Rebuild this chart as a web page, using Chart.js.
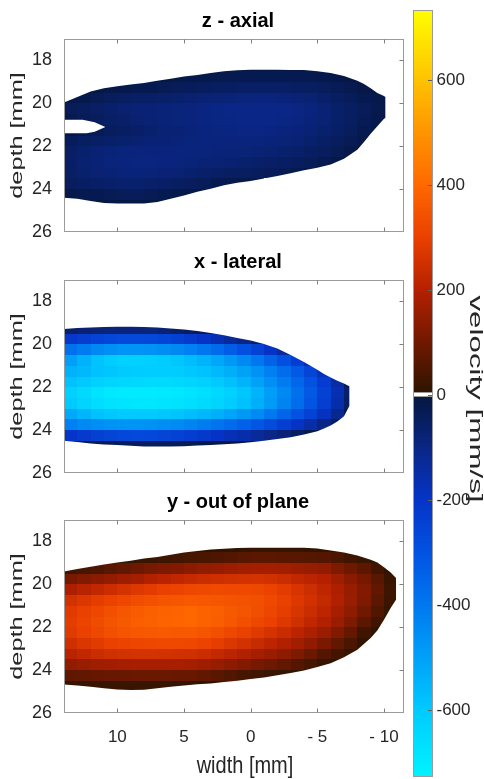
<!DOCTYPE html>
<html><head><meta charset="utf-8">
<script src="https://cdn.jsdelivr.net/npm/chart.js@4.4.1/dist/chart.umd.min.js"></script>
<style>
html,body{margin:0;padding:0;background:#fff;}
#wrap{position:relative;width:484px;height:779px;overflow:hidden;background:#fff;}
#wrap canvas{position:absolute;}
</style></head><body>
<div id="wrap">
<canvas id="p1" width="476" height="250" style="left:0;top:0"></canvas>
<canvas id="p2" width="476" height="250" style="left:0;top:241px"></canvas>
<canvas id="p3" width="476" height="298" style="left:0;top:481px"></canvas>
<canvas id="cb" width="84" height="800" style="left:400px;top:0"></canvas>
</div>
<script>
const _ = null;
// ---------------- DATA ----------------
const panelTitles = ['z - axial', 'x - lateral', 'y - out of plane'];
const widthBins = [14,13,12,11,10,9,8,7,6,5,4,3,2,1,0,-1,-2,-3,-4,-5,-6,-7,-8,-9,-10]; // each cell: w .. w-1 mm
const depthBins = [18,18.5,19,19.5,20,20.5,21,21.5,22,22.5,23,23.5,24,24.5];           // each cell: d .. d+0.5 mm
const xTickValues = [10,5,0,-5,-10];
const xTickLabels = ['10','5','0','- 5','- 10'];
const depthTicks = [18,20,22,24,26];
const depthTickLabels = ['18','20','22','24','26'];
const cbTicks = [600,400,200,0,-200,-400,-600];
const cbTickLabels = ['600','400','200','0','-200','-400','-600'];

// outlines (width, top depth, bottom depth)
const axialOutlineX = [14,13,12,11,10,9,8,7,6,5,4,3,2,1,0,-1,-2,-3,-4,-5,-6,-7,-8,-8.5,-9,-9.5,-10,-10.1];
const axialTop      = [19.96,19.7,19.45,19.3,19.2,19.12,19.05,18.95,18.85,18.75,18.68,18.58,18.5,18.46,18.43,18.43,18.43,18.44,18.45,18.5,18.58,18.72,18.95,19.1,19.3,19.52,19.66,19.7];
const axialBottom   = [24.4,24.45,24.55,24.65,24.67,24.67,24.67,24.6,24.45,24.3,24.12,23.98,23.82,23.7,23.62,23.5,23.39,23.26,23.12,23.0,22.85,22.58,22.16,21.8,21.42,21.07,20.72,20.68];
const axialNotchX   = [14,12.6,11.7,10.9,11.7,12.3,14];
const axialNotchD   = [20.77,20.77,20.88,21.1,21.32,21.39,21.39];

const lateralOutlineX = [14,13,12,11,10,9,8,7,6,5,4,3,2,1,0,-1,-2,-3,-4,-5,-5.5,-6,-6.5,-7,-7.4];
const lateralTop      = [19.28,19.24,19.21,19.19,19.18,19.18,19.19,19.22,19.26,19.31,19.38,19.47,19.58,19.7,19.82,19.98,20.2,20.5,20.82,21.18,21.38,21.55,21.7,21.83,21.95];
const lateralBottom   = [24.5,24.56,24.62,24.67,24.7,24.73,24.76,24.77,24.77,24.75,24.72,24.69,24.66,24.62,24.57,24.5,24.42,24.33,24.2,24.05,23.92,23.78,23.6,23.35,22.88];

const outplaneOutlineX = [14,13,12,11,10,9,8,7,6,5,4,3,2,1,0,-1,-2,-3,-4,-5,-6,-7,-8,-9,-9.5,-10,-10.5,-10.9];
const outplaneTop      = [19.4,19.28,19.18,19.08,18.98,18.9,18.8,18.72,18.62,18.52,18.44,18.38,18.34,18.31,18.29,18.29,18.29,18.29,18.29,18.33,18.42,18.52,18.65,18.85,18.98,19.2,19.45,19.71];
const outplaneBottom   = [24.67,24.72,24.78,24.85,24.9,24.93,24.92,24.85,24.78,24.72,24.66,24.62,24.56,24.5,24.42,24.34,24.24,24.13,24.02,23.85,23.68,23.4,23.05,22.5,22.15,21.65,21.1,20.72];

// velocity [mm/s], one array per width cell, entries per depth cell
const axialV = [
[_,_,_,-15,-35,-23,-15,-39,-55,-58,-55,-43,-20,_],
[_,_,-8,-20,-43,-35,-23,-47,-66,-70,-66,-50,-23,-6],
[_,_,-12,-31,-55,-43,-31,-55,-74,-78,-74,-58,-27,-8],
[_,_,-16,-43,-62,-55,-43,-62,-82,-86,-78,-62,-31,-8],
[_,_,-20,-47,-70,-62,-50,-66,-86,-90,-82,-66,-35,-8],
[_,_,-23,-55,-74,-70,-58,-70,-90,-92,-84,-66,-35,-8],
[_,-6,-27,-58,-78,-74,-66,-74,-90,-92,-82,-62,-31,-8],
[_,-8,-31,-62,-82,-82,-74,-78,-90,-90,-78,-58,-27,-6],
[_,-12,-35,-66,-86,-86,-78,-82,-90,-86,-74,-50,-20,_],
[_,-16,-39,-70,-90,-90,-82,-86,-87,-82,-66,-43,-12,_],
[_,-20,-43,-74,-94,-94,-87,-87,-86,-78,-61,-35,-8,_],
[_,-22,-47,-78,-98,-98,-92,-90,-84,-74,-55,-27,_,_],
[-5,-23,-51,-82,-101,-100,-94,-90,-82,-70,-51,-23,_,_],
[-6,-25,-55,-86,-103,-101,-95,-90,-80,-66,-47,-20,_,_],
[-8,-27,-56,-87,-105,-103,-95,-87,-76,-62,-43,-16,_,_],
[-8,-27,-56,-87,-105,-101,-94,-84,-72,-58,-37,_,_,_],
[-8,-27,-55,-84,-101,-98,-90,-80,-66,-53,-31,_,_,_],
[-8,-26,-51,-78,-95,-92,-84,-74,-61,-45,-23,_,_,_],
[-6,-23,-47,-72,-87,-84,-76,-66,-53,-35,-16,_,_,_],
[-5,-20,-41,-62,-76,-74,-66,-56,-43,-25,_,_,_,_],
[_,-14,-33,-51,-62,-61,-55,-45,-31,-12,_,_,_,_],
[_,-8,-23,-39,-48,-47,-41,-31,-16,-6,_,_,_,_],
[_,-6,-14,-27,-35,-33,-27,-16,-6,_,_,_,_,_],
[_,_,-8,-17,-23,-20,-12,_,_,_,_,_,_,_],
[_,_,_,-12,-14,-9,_,_,_,_,_,_,_,_]
];
const lateralV = [
[_,_,-60,-210,-380,-500,-540,-580,-620,-600,-520,-420,-200,-10],
[_,_,-70,-230,-410,-540,-560,-600,-650,-630,-550,-440,-220,-20],
[_,_,-80,-250,-440,-580,-580,-620,-680,-660,-580,-455,-240,-30],
[_,_,-85,-260,-460,-610,-590,-630,-695,-675,-595,-465,-255,-35],
[_,_,-90,-270,-470,-620,-600,-640,-700,-680,-600,-470,-265,-40],
[_,_,-90,-270,-470,-620,-605,-645,-700,-685,-600,-470,-270,-45],
[_,_,-85,-265,-465,-615,-610,-650,-700,-685,-600,-465,-265,-45],
[_,_,-75,-255,-455,-605,-610,-650,-695,-680,-595,-455,-255,-40],
[_,_,-60,-240,-440,-590,-605,-645,-690,-675,-585,-445,-245,-35],
[_,_,-45,-220,-420,-570,-595,-635,-680,-665,-570,-430,-230,-30],
[_,_,-30,-195,-395,-545,-580,-620,-665,-650,-555,-410,-215,-20],
[_,_,-15,-165,-365,-515,-560,-600,-645,-630,-535,-390,-195,-15],
[_,_,_,-130,-330,-480,-535,-575,-620,-605,-510,-365,-175,-10],
[_,_,_,-95,-290,-440,-505,-545,-590,-575,-480,-340,-155,-5],
[_,_,_,-60,-245,-395,-465,-505,-545,-535,-445,-310,-130,-5],
[_,_,_,-25,-195,-345,-420,-460,-495,-485,-400,-275,-105,-3],
[_,_,_,_,-140,-290,-370,-410,-440,-430,-350,-235,-80,_],
[_,_,_,_,-80,-230,-315,-355,-380,-370,-300,-195,-50,_],
[_,_,_,_,_,-160,-255,-295,-315,-305,-245,-150,-25,_],
[_,_,_,_,_,_,-180,-225,-245,-235,-185,-100,-10,_],
[_,_,_,_,_,_,_,-145,-165,-155,-115,-45,_,_],
[_,_,_,_,_,_,_,-40,-60,-50,-25,_,_,_]
];
const outplaneV = [
[_,_,30,110,190,255,282,290,280,250,210,150,75,15],
[_,_,40,125,208,272,300,310,300,270,225,160,80,15],
[_,_,50,140,225,290,320,330,320,285,240,170,85,18],
[_,8,65,150,242,305,340,348,338,300,250,175,88,20],
[_,14,80,165,260,320,355,362,350,310,255,180,90,22],
[_,18,95,180,274,332,368,374,358,316,258,182,92,22],
[_,22,108,198,288,342,378,383,362,320,258,182,92,20],
[_,28,118,210,300,350,386,389,364,322,256,182,92,18],
[_,34,128,222,311,356,391,393,363,322,253,181,90,15],
[6,40,138,232,320,360,395,395,360,320,250,180,90,12],
[6,46,148,240,323,358,388,386,350,308,240,170,80,8],
[8,52,156,247,324,354,378,374,337,292,227,158,68,5],
[10,58,164,252,323,349,363,358,320,272,212,143,55,3],
[12,64,172,256,322,345,350,340,300,255,196,127,42,_],
[15,70,180,260,320,340,335,320,280,235,180,110,30,_],
[15,70,178,252,305,322,315,300,260,215,162,95,22,_],
[14,68,172,240,286,300,292,276,238,195,143,80,15,_],
[13,66,166,226,264,276,265,250,214,172,120,60,10,_],
[12,63,158,213,243,253,240,222,188,145,92,38,5,_],
[10,60,150,200,220,230,215,195,160,115,60,15,_,_],
[5,45,120,170,190,195,180,160,125,80,35,10,_,_],
[_,30,95,140,158,160,145,120,85,45,15,_,_,_],
[_,20,70,110,125,120,100,70,30,10,5,_,_,_],
[_,8,35,65,78,72,55,30,10,_,_,_,_,_],
[_,_,10,22,28,25,15,8,_,_,_,_,_,_]
];

// ---------------- STYLE ----------------
const FONT = 'Liberation Sans, Arial, Helvetica, sans-serif';
const TXT = '#262626';
const CMAP_POS = [[0,[42,20,0]],[100,[112,24,0]],[200,[180,32,0]],[300,[234,64,0]],[400,[255,104,0]],[500,[255,148,0]],[600,[255,194,0]],[735,[255,255,0]]];
const CMAP_NEG = [[0,[5,22,63]],[100,[10,38,133]],[200,[5,52,200]],[300,[3,82,226]],[400,[0,120,240]],[500,[0,160,248]],[600,[0,202,255]],[735,[0,246,255]]];
function colorOf(v){
  const t = v >= 0 ? CMAP_POS : CMAP_NEG; const a = Math.abs(v);
  for (let i = 1; i < t.length; i++) {
    if (a <= t[i][0] || i === t.length - 1) {
      const f = Math.max(0, Math.min(1, (a - t[i-1][0]) / (t[i][0] - t[i-1][0])));
      const c = t[i-1][1].map((c0, k) => Math.round(c0 + (t[i][1][k] - c0) * f));
      return 'rgb(' + c.join(',') + ')';
    }
  }
}
Chart.defaults.font.family = FONT;

function heatPlugin(p){
  return { id: 'heat', beforeDatasetsDraw(chart){
    const {ctx, chartArea: a} = chart; const xs = chart.scales.x, ys = chart.scales.y;
    const X = v => xs.getPixelForValue(v), Y = v => ys.getPixelForValue(v);
    ctx.save();
    ctx.beginPath(); ctx.rect(a.left, a.top, a.right - a.left, a.bottom - a.top); ctx.clip();
    ctx.beginPath();
    p.ox.forEach((v, i) => { const px = X(v), py = Y(p.top[i]); i ? ctx.lineTo(px, py) : ctx.moveTo(px, py); });
    for (let i = p.ox.length - 1; i >= 0; i--) ctx.lineTo(X(p.ox[i]), Y(p.bot[i]));
    ctx.closePath();
    if (p.nx) { p.nx.forEach((v, i) => { const px = X(v), py = Y(p.nd[i]); i ? ctx.lineTo(px, py) : ctx.moveTo(px, py); }); ctx.closePath(); }
    ctx.clip('evenodd');
    p.v.forEach((col, ci) => {
      const x0 = Math.round(X(widthBins[ci])), x1 = Math.round(X(widthBins[ci] - 1));
      col.forEach((val, ri) => {
        if (val === null) return;
        const y0 = Math.round(Y(depthBins[ri])), y1 = Math.round(Y(depthBins[ri] + 0.5));
        ctx.fillStyle = colorOf(val);
        ctx.fillRect(Math.min(x0, x1), Math.min(y0, y1), Math.abs(x1 - x0), Math.abs(y1 - y0));
      });
    });
    ctx.restore();
  }};
}
const framePlugin = { id: 'frame', afterDraw(chart){
  const {ctx, chartArea: a} = chart; const xs = chart.scales.x, ys = chart.scales.y;
  const L = Math.round(a.left) + 0.5, R = Math.round(a.right) - 0.5, T = Math.round(a.top) + 0.5, B = Math.round(a.bottom) - 0.5;
  ctx.save();
  ctx.strokeStyle = '#9b9b9b'; ctx.lineWidth = 1; ctx.strokeRect(L, T, R - L, B - T);
  ctx.strokeStyle = '#808080'; ctx.beginPath();
  xTickValues.forEach(v => { const px = Math.round(xs.getPixelForValue(v)) + 0.5; ctx.moveTo(px, T); ctx.lineTo(px, T + 4); ctx.moveTo(px, B); ctx.lineTo(px, B - 4); });
  depthTicks.forEach(v => { const py = Math.round(ys.getPixelForValue(v)) + 0.5; if (py > B - 1) return; ctx.moveTo(R, py); ctx.lineTo(R - 4, py); });
  ctx.stroke(); ctx.restore();
}};
function stretchedText(ctx, text, cx, cy, rot, sx, sy, font){
  ctx.save(); ctx.translate(cx, cy); ctx.rotate(rot); ctx.scale(sx, sy);
  ctx.font = font; ctx.fillStyle = TXT; ctx.textAlign = 'center'; ctx.textBaseline = 'middle';
  ctx.fillText(text, 0, 0); ctx.restore();
}
function labelPlugin(isLast){
  return { id: 'labels', afterDraw(chart){
    const {ctx, chartArea: a} = chart;
    stretchedText(ctx, 'depth [mm]', 17.5, (a.top + a.bottom) / 2, -Math.PI / 2, 1.58, 1, '16px ' + FONT);
    if (isLast) stretchedText(ctx, 'width [mm]', 245, a.bottom + 53.5, 0, 1, 1.2, '20px ' + FONT);
  }};
}
const hiddenTickGrid = {display: true, drawOnChartArea: false, drawTicks: true, tickLength: 12, tickColor: 'rgba(0,0,0,0)'};

function makePanel(id, title, p, isLast){
  return new Chart(document.getElementById(id), {
    type: 'scatter',
    data: {datasets: [{data: []}]},
    options: {
      responsive: false, animation: false, devicePixelRatio: 1,
      layout: {padding: {left: 0, right: 0, top: 0, bottom: isLast ? 0 : 18}},
      plugins: {
        legend: {display: false}, tooltip: {enabled: false},
        title: {display: true, text: title, color: '#000', font: {family: FONT, size: 20, weight: 'bold'}, padding: {top: 9, bottom: 6}}
      },
      scales: {
        x: {type: 'linear', min: -11.5, max: 14, reverse: true, display: isLast,
            afterBuildTicks: s => { s.ticks = xTickValues.map(v => ({value: v})); },
            afterFit: s => { if (isLast) s.height = 66; },
            grid: Object.assign({}, hiddenTickGrid, {tickLength: 14}), border: {display: false},
            ticks: {autoSkip: false, maxRotation: 0, padding: 0, color: TXT, font: {family: FONT, size: 17},
                    callback: v => xTickLabels[xTickValues.indexOf(v)]}},
        y: {type: 'linear', position: 'left', min: 17, max: 26, reverse: true,
            afterBuildTicks: s => { s.ticks = depthTicks.map(v => ({value: v})); },
            afterFit: s => { s.width = 64; },
            grid: hiddenTickGrid, border: {display: false},
            ticks: {autoSkip: false, padding: 0, color: TXT, font: {family: FONT, size: 18},
                    callback: v => depthTickLabels[depthTicks.indexOf(v)]}},
        yR: {type: 'linear', position: 'right', min: 0, max: 1,
             afterFit: s => { s.width = 72; }, grid: {display: false}, border: {display: false}, ticks: {display: false}}
      }
    },
    plugins: [heatPlugin(p), framePlugin, labelPlugin(isLast)]
  });
}

makePanel('p1', panelTitles[0], {ox: axialOutlineX, top: axialTop, bot: axialBottom, nx: axialNotchX, nd: axialNotchD, v: axialV}, false);
makePanel('p2', panelTitles[1], {ox: lateralOutlineX, top: lateralTop, bot: lateralBottom, v: lateralV}, false);
makePanel('p3', panelTitles[2], {ox: outplaneOutlineX, top: outplaneTop, bot: outplaneBottom, v: outplaneV}, true);

// ---------------- COLORBAR ----------------
const cbPlugin = { id: 'cbar',
  beforeDatasetsDraw(chart){
    const {ctx, chartArea: a} = chart; const ys = chart.scales.y;
    const L = Math.round(a.left), R = Math.round(a.right), T = Math.round(a.top), B = Math.round(a.bottom);
    ctx.save();
    for (let py = T; py < B; py++) { ctx.fillStyle = colorOf(ys.getValueForPixel(py + 0.5)); ctx.fillRect(L, py, R - L, 1); }
    const y0 = Math.round(ys.getPixelForValue(0));
    ctx.fillStyle = '#fff'; ctx.fillRect(L, y0 - 2, R - L, 3);
    ctx.strokeStyle = '#9b9b9b'; ctx.lineWidth = 1;
    ctx.beginPath(); ctx.moveTo(L, y0 - 2.5); ctx.lineTo(R, y0 - 2.5); ctx.moveTo(L, y0 + 1.5); ctx.lineTo(R, y0 + 1.5); ctx.stroke();
    ctx.strokeRect(L + 0.5, T + 0.5, R - L - 1, B - T - 1);
    ctx.strokeStyle = '#606060'; ctx.beginPath();
    cbTicks.forEach(v => { const py = Math.round(ys.getPixelForValue(v)) + 0.5; ctx.moveTo(R - 5, py); ctx.lineTo(R - 1, py); });
    ctx.stroke();
    ctx.restore();
  },
  afterDraw(chart){
    stretchedText(chart.ctx, 'velocity [mm/s]', 75, 399, Math.PI / 2, 1.74, 1, '18px ' + FONT);
  }
};
new Chart(document.getElementById('cb'), {
  type: 'scatter',
  data: {datasets: [{data: []}]},
  options: {
    responsive: false, animation: false, devicePixelRatio: 1,
    layout: {padding: {left: 13, top: 10, bottom: 23, right: 0}},
    plugins: {legend: {display: false}, tooltip: {enabled: false}},
    scales: {
      x: {display: false, min: 0, max: 1},
      y: {type: 'linear', position: 'right', min: -727, max: 733,
          afterBuildTicks: s => { s.ticks = cbTicks.map(v => ({value: v})); },
          afterFit: s => { s.width = 51; },
          grid: {display: true, drawOnChartArea: false, drawTicks: true, tickLength: 3.5, tickColor: 'rgba(0,0,0,0)'},
          border: {display: false},
          ticks: {autoSkip: false, padding: 0, color: TXT, font: {family: FONT, size: 17},
                  callback: v => cbTickLabels[cbTicks.indexOf(v)]}}
    }
  },
  plugins: [cbPlugin]
});
</script>
</body></html>
